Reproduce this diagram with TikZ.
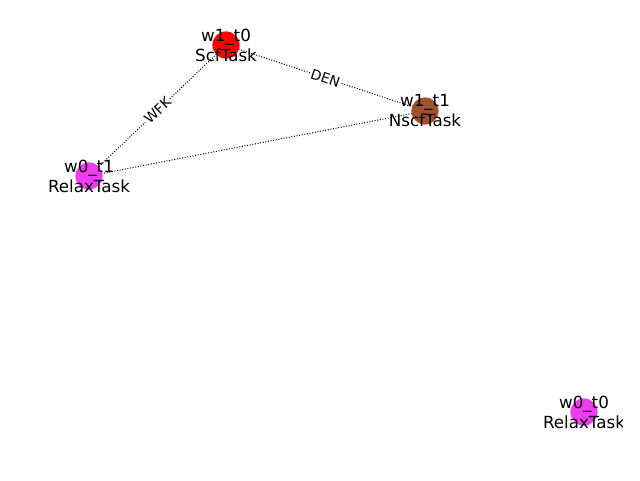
\documentclass[tikz,border=0pt]{standalone}
\usepackage{fontspec}
\setmainfont{DejaVu Sans}
\definecolor{relax}{RGB}{240,60,240}
\definecolor{nscf}{RGB}{160,82,45}
\pgfdeclarelayer{bg}
\pgfsetlayers{bg,main}
\begin{document}
\begin{tikzpicture}[x=1pt,y=-1pt,
  dot/.style={circle,minimum size=27.2pt,inner sep=0pt,draw=none},
  lbl/.style={font=\fontsize{16.7}{20}\selectfont,align=center,inner sep=0pt},
  edge/.style={line width=1pt,dash pattern=on 1pt off 1.65pt},
  elbl/.style={font=\fontsize{13.9}{16}\selectfont,fill=white,rounded corners=3pt,inner sep=1.5pt,sloped}]
\useasboundingbox (0,0) rectangle (640,480);
\node[dot,fill=red] (a) at (226,45) {};
\node[dot,fill=nscf] (b) at (425,111) {};
\node[dot,fill=relax] (c) at (89,176) {};
\node[dot,fill=relax] (d) at (584,412) {};
\begin{pgfonlayer}{bg}
\draw[edge] (a.center) -- node[elbl] {DEN} (b.center);
\draw[edge] (a.center) -- node[elbl] {WFK} (c.center);
\draw[edge] (b.center) -- (c.center);
\end{pgfonlayer}
\node[lbl] (ta) at (a) {w1\_t0\\ScfTask};
\node[lbl] (tb) at (b) {w1\_t1\\NscfTask};
\node[lbl] (tc) at (c) {w0\_t1\\RelaxTask};
\begin{scope}
\clip (0,0) rectangle (622,480);
\node[lbl] (td) at (d) {w0\_t0\\RelaxTask};
\end{scope}
\end{tikzpicture}
\end{document}
